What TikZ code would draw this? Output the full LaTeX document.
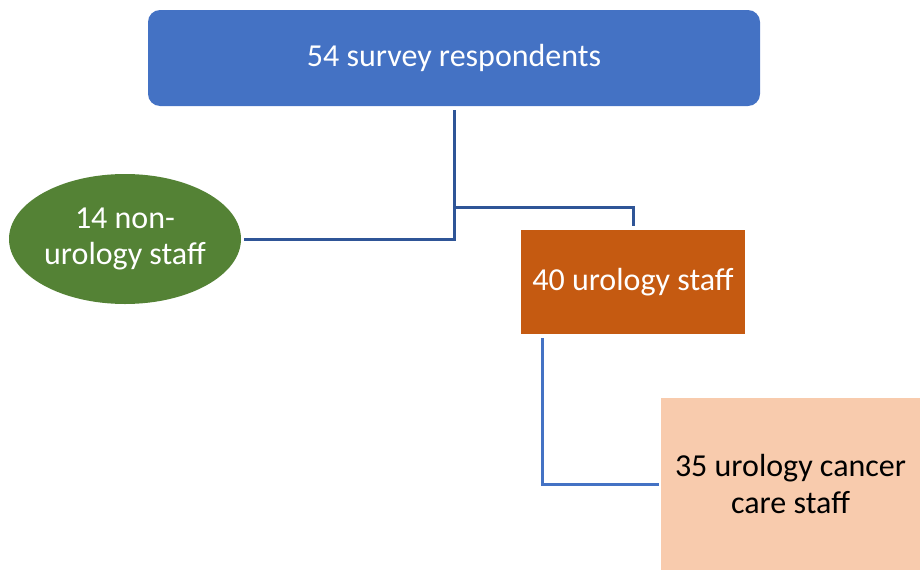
\documentclass[tikz,border=0pt]{standalone}
\usepackage{fontspec}
\setmainfont{Carlito}
\usetikzlibrary{shapes.geometric}
\definecolor{boxblue}{HTML}{4472C4}
\definecolor{boxgreen}{HTML}{548235}
\definecolor{boxorange}{HTML}{C55A11}
\definecolor{boxpeach}{HTML}{F8CBAD}
\definecolor{linedark}{HTML}{2F5597}
\begin{document}
\begin{tikzpicture}[x=1pt,y=-1pt,
  lbl/.style={font=\fontsize{32}{36}\selectfont, align=center, inner sep=0pt},
  topbox/.style={lbl, fill=boxblue, text=white, rounded corners=12pt, minimum width=612pt, minimum height=96pt},
  greenell/.style={lbl, ellipse, fill=boxgreen, text=white, minimum width=232pt, minimum height=130pt},
  orangebox/.style={lbl, fill=boxorange, text=white, minimum width=224pt, minimum height=104pt},
  peachbox/.style={lbl, fill=boxpeach, text=black, minimum width=259pt, minimum height=172pt},
  conn/.style={draw=linedark, line width=3pt},
  conn2/.style={draw=boxblue, line width=3pt}]
\useasboundingbox (0,0) rectangle (920,570);
\node[topbox] (top) at (454,58) {54 survey respondents};
\node[greenell] (green) at (125,239) {14 non-\\urology staff};
\node[orangebox] (orange) at (633,282) {40 urology staff};
\node[peachbox] (peach) at (790.5,484) {35 urology cancer\\care staff};
\coordinate (j) at (454,207);
\draw[conn, shorten <=4pt] (top.south) -- (top.south |- green.east) -- ([xshift=3pt]green.east);
\draw[conn, shorten >=4pt] (j) -- (j -| orange.north) -- (orange.north);
\draw[conn2, shorten <=4pt, shorten >=2pt] ([xshift=-91pt]orange.south) |- (peach.west);
\end{tikzpicture}
\end{document}
